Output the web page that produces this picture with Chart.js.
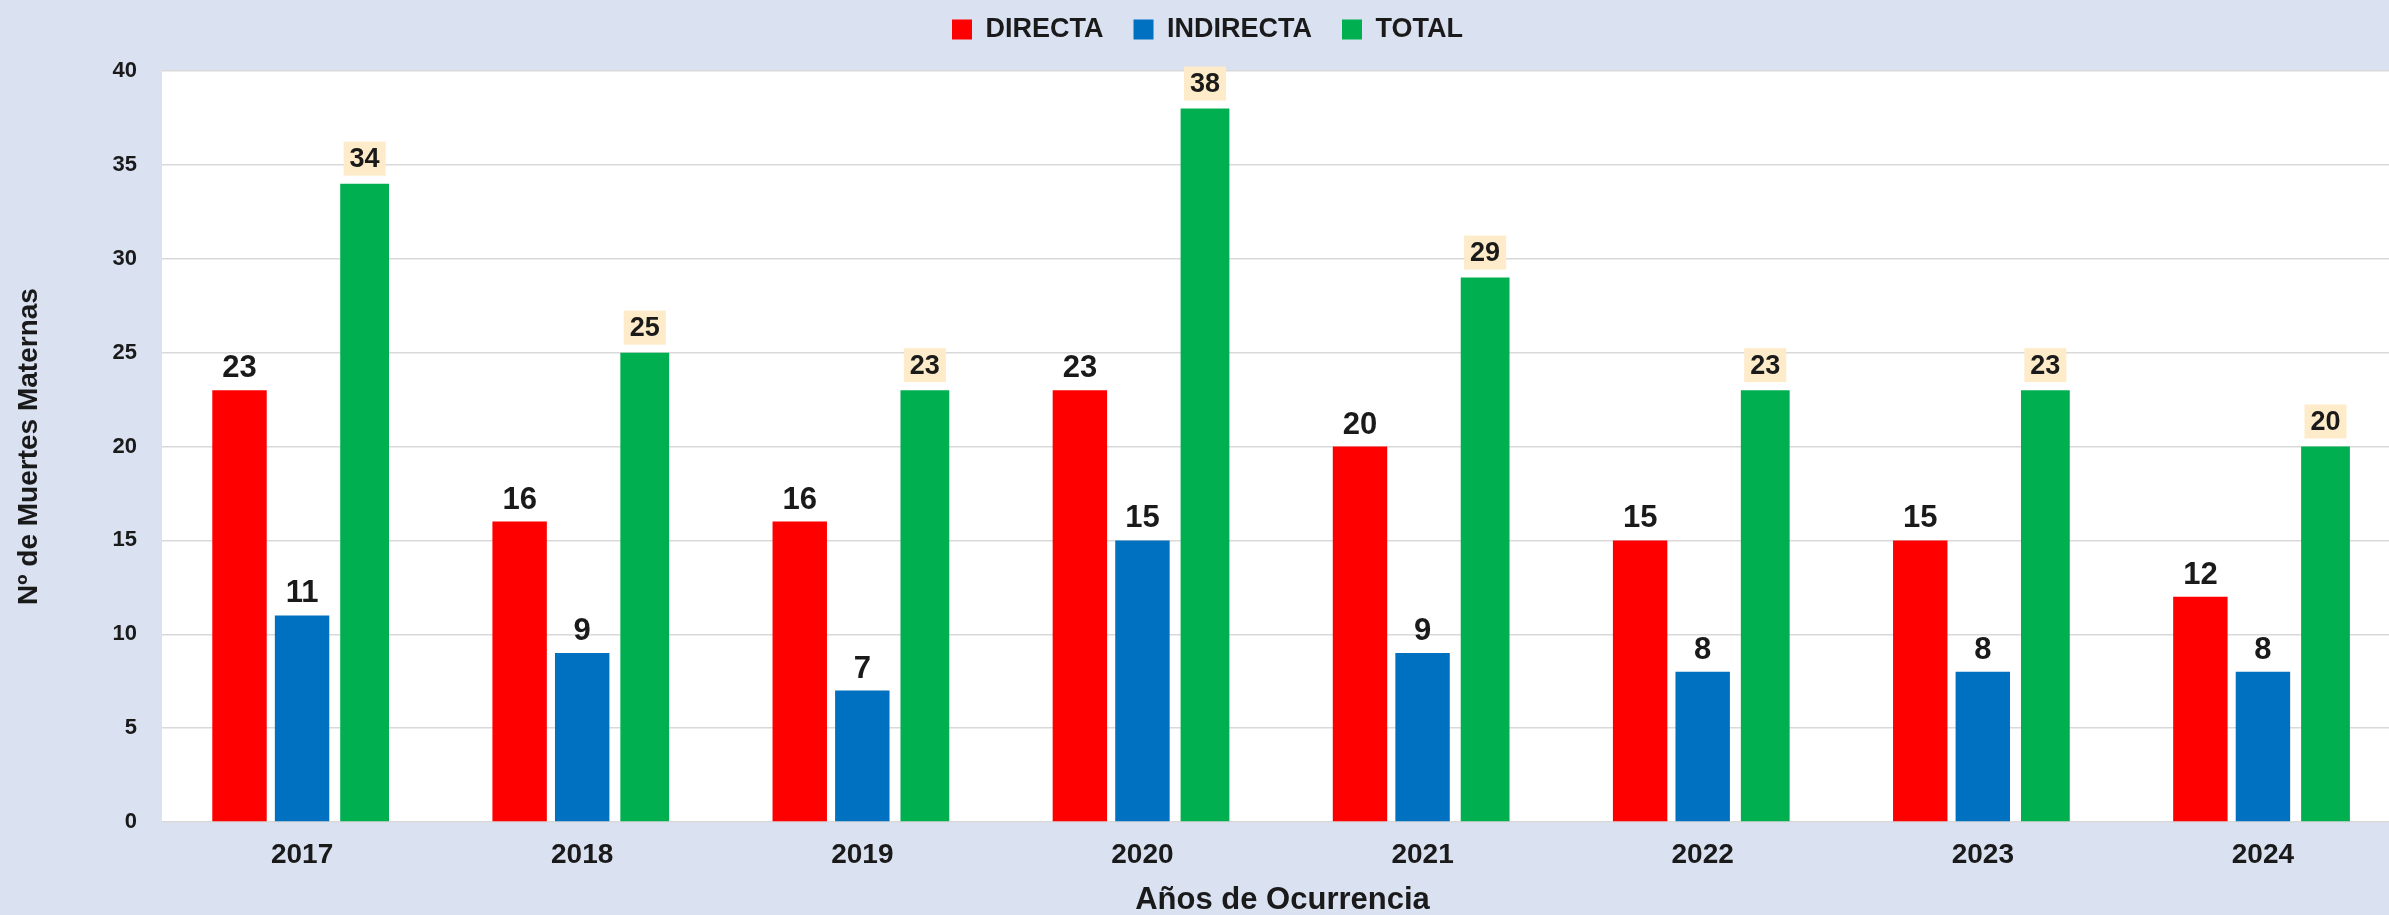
<!DOCTYPE html>
<html>
<head>
<meta charset="utf-8">
<script src="https://cdn.jsdelivr.net/npm/chart.js@4.4.1/dist/chart.umd.min.js"></script>
<style>
  html, body { margin: 0; padding: 0; background: #dae1f1; overflow: hidden; }
  /* the reference plot runs a little past the right edge, so the canvas is wider than the window */
  #wrap { width: 2403px; height: 915px; position: relative; }
</style>
</head>
<body>
<div id="wrap"><canvas id="chart"></canvas></div>
<script>
const years = ['2017', '2018', '2019', '2020', '2021', '2022', '2023', '2024']
const directa = [23, 16, 16, 23, 20, 15, 15, 12]
const indirecta = [11, 9, 7, 15, 9, 8, 8, 8]
const total = [34, 25, 23, 38, 29, 23, 23, 20]
const yTicks = [0, 5, 10, 15, 20, 25, 30, 35, 40]

const FONT = '"Liberation Sans", Arial, sans-serif'
const PAGE_BG = '#dae1f1'

const backgroundPlugin = {
  id: 'bg',
  beforeDraw(chart) {
    const { ctx, chartArea } = chart
    ctx.save()
    ctx.fillStyle = PAGE_BG
    ctx.fillRect(0, 0, chart.width, chart.height)
    ctx.fillStyle = '#ffffff'
    ctx.fillRect(chartArea.left, chartArea.top, chartArea.right - chartArea.left, chartArea.bottom - chartArea.top)
    ctx.restore()
  },
}

const legendSpacing = {
  id: 'legendSpacing',
  beforeInit(chart) {
    const fit = chart.legend.fit
    chart.legend.fit = function () {
      fit.bind(chart.legend)()
      this.height += 18
    }
  },
}

// values above bars; TOTAL gets a small beige box behind the number
const valueLabels = {
  id: 'valueLabels',
  afterDatasetsDraw(chart) {
    const { ctx } = chart
    ctx.save()
    ctx.textAlign = 'center'
    chart.data.datasets.forEach((ds, i) => {
      const meta = chart.getDatasetMeta(i)
      meta.data.forEach((bar, j) => {
        const text = String(ds.data[j])
        if (ds.labelBox) {
          ctx.font = `bold 27px ${FONT}`
          ctx.textBaseline = 'middle'
          const w = ctx.measureText(text).width + 12
          const h = 34
          const cy = bar.y - 8 - h / 2
          ctx.fillStyle = ds.labelBox
          ctx.fillRect(bar.x - w / 2, cy - h / 2, w, h)
          ctx.fillStyle = '#1a1a1a'
          ctx.fillText(text, bar.x, cy + 1)
        } else {
          ctx.font = `bold 31px ${FONT}`
          ctx.textBaseline = 'alphabetic'
          ctx.fillStyle = '#1a1a1a'
          ctx.fillText(text, bar.x, bar.y - 13)
        }
      })
    })
    ctx.restore()
  },
}

const canvas = document.getElementById('chart')
const chart = new Chart(canvas.getContext('2d'), {
  type: 'bar',
  data: {
    labels: years,
    datasets: [
      {
        label: 'DIRECTA',
        data: directa,
        backgroundColor: '#ff0000',
        barPercentage: 0.87,
        categoryPercentage: 0.67,
      },
      {
        label: 'INDIRECTA',
        data: indirecta,
        backgroundColor: '#0070c0',
        barPercentage: 0.87,
        categoryPercentage: 0.67,
      },
      {
        label: 'TOTAL',
        data: total,
        backgroundColor: '#00b050',
        barPercentage: 0.78,
        categoryPercentage: 0.67,
        labelBox: '#fdebc9',
      },
    ],
  },
  options: {
    responsive: true,
    maintainAspectRatio: false,
    animation: false,
    layout: { padding: { left: 12, right: 0, top: -14, bottom: 0 } },
    scales: {
      x: {
        grid: { display: false, drawTicks: false },
        border: { display: false },
        ticks: {
          color: '#1a1a1a',
          padding: 16,
          font: { family: FONT, size: 28, weight: 'bold' },
        },
        title: {
          display: true,
          text: 'Años de Ocurrencia',
          color: '#1a1a1a',
          padding: { top: 0, bottom: -4 },
          font: { family: FONT, size: 31, weight: 'bold' },
        },
        afterFit(scale) {
          scale.height = 93
        },
      },
      y: {
        min: 0,
        max: 40,
        afterBuildTicks(scale) {
          scale.ticks = yTicks.map((v) => ({ value: v }))
        },
        grid: { color: '#d9d9d9', lineWidth: 1.5, drawTicks: false },
        border: { display: false },
        ticks: {
          color: '#1a1a1a',
          padding: 25,
          font: { family: FONT, size: 22, weight: 'bold' },
        },
        title: {
          display: true,
          text: 'Nº de Muertes Maternas',
          color: '#1a1a1a',
          padding: { top: 0, bottom: 0 },
          font: { family: FONT, size: 28, weight: 'bold' },
        },
        afterFit(scale) {
          scale.width = 150
        },
      },
    },
    plugins: {
      legend: {
        position: 'top',
        labels: {
          color: '#1a1a1a',
          boxWidth: 20,
          boxHeight: 20,
          padding: 30,
          font: { family: FONT, size: 27, weight: 'bold' },
        },
      },
      tooltip: { enabled: false },
    },
  },
  plugins: [backgroundPlugin, legendSpacing, valueLabels],
})
</script>
</body>
</html>
